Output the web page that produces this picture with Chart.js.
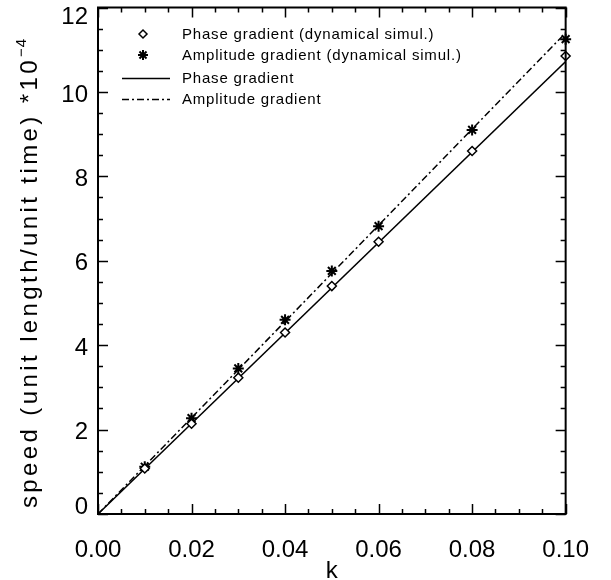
<!DOCTYPE html>
<html>
<head>
<meta charset="utf-8">
<script src="https://cdn.jsdelivr.net/npm/chart.js@4.4.0/dist/chart.umd.min.js"></script>
<style>
  html, body { margin: 0; padding: 0; background: #fff; }
</style>
</head>
<body>
<canvas id="speedChart" width="611" height="580"></canvas>
<script>
// simulated points (k, speed * 1e4)
const kSim = [0.01, 0.02, 0.03, 0.04, 0.05, 0.06, 0.08, 0.10];
const phaseSim = [1.08, 2.14, 3.23, 4.30, 5.40, 6.45, 8.60, 10.85];
const ampSim = [1.12, 2.27, 3.45, 4.60, 5.76, 6.82, 9.10, 11.25];

// analytic lines
const kLine = [0, 0.10];
const phaseLine = [0, 10.72];
const ampLine = [0, 11.40];

// axis ticks
const xTicks = [0, 0.02, 0.04, 0.06, 0.08, 0.10];
const yTicks = [0, 2, 4, 6, 8, 10, 12];

const labels = [
  "Phase gradient (dynamical simul.)",
  "Amplitude gradient (dynamical simul.)",
  "Phase gradient",
  "Amplitude gradient",
];

const toPoints = (xs, ys) => xs.map((x, i) => ({ x: x, y: ys[i] }));
const FONT = "'Liberation Sans', Arial, sans-serif";

// frame, inward ticks, y labels, titles and legend
const idlFrame = {
  id: "idlFrame",
  afterDraw(chart) {
    const ctx = chart.ctx;
    const a = chart.chartArea;
    const xs = chart.scales.x;
    const ys = chart.scales.y;

    ctx.save();
    ctx.strokeStyle = "#000";
    ctx.lineWidth = 2;
    ctx.strokeRect(a.left, a.top, a.right - a.left, a.bottom - a.top);

    ctx.lineWidth = 1.5;
    ctx.beginPath();
    for (let i = 0; i <= 20; i++) {
      const v = i * 0.005;
      const len = i % 4 === 0 ? 10 : 5;
      const px = Math.round(xs.getPixelForValue(v)) + 0.5;
      ctx.moveTo(px, a.bottom);
      ctx.lineTo(px, a.bottom - len);
      ctx.moveTo(px, a.top);
      ctx.lineTo(px, a.top + len);
    }
    for (let i = 0; i <= 24; i++) {
      const v = i * 0.5;
      const len = i % 4 === 0 ? 10 : 5;
      const py = Math.round(ys.getPixelForValue(v)) + 0.5;
      ctx.moveTo(a.left, py);
      ctx.lineTo(a.left + len, py);
      ctx.moveTo(a.right, py);
      ctx.lineTo(a.right - len, py);
    }
    ctx.stroke();

    // y tick labels
    ctx.fillStyle = "#000";
    ctx.font = "24px " + FONT;
    ctx.textAlign = "right";
    ctx.textBaseline = "middle";
    yTicks.forEach((v) => {
      let py = ys.getPixelForValue(v) + 3;
      py = Math.min(Math.max(py, a.top + 10), a.bottom - 7);
      ctx.fillText(String(v), a.left - 10, py);
    });

    // x title
    ctx.textAlign = "center";
    ctx.font = "24px " + FONT;
    ctx.fillText("k", (a.left + a.right) / 2, 571);

    // y title with superscript
    ctx.save();
    ctx.translate(37, 273);
    ctx.rotate(-Math.PI / 2);
    ctx.textBaseline = "alphabetic";
    ctx.font = "24px " + FONT;
    ctx.letterSpacing = "3.4px";
    const main = "speed (unit length/unit time) *10";
    const sup = "\u22124";
    const wMain = ctx.measureText(main).width;
    ctx.font = "15px " + FONT;
    ctx.letterSpacing = "1px";
    const wSup = ctx.measureText(sup).width;
    const x0 = -(wMain + wSup) / 2;
    ctx.textAlign = "left";
    ctx.fillText(sup, x0 + wMain, -11);
    ctx.font = "24px " + FONT;
    ctx.letterSpacing = "3.4px";
    ctx.fillText(main, x0, 0);
    ctx.restore();

    // legend
    const rows = [34, 55, 78, 99];
    ctx.font = "15px " + FONT;
    ctx.letterSpacing = "0.8px";
    ctx.textAlign = "left";
    ctx.textBaseline = "middle";
    chart.data.datasets.forEach((ds, i) => {
      const y = rows[i];
      if (ds.showLine) {
        ctx.save();
        ctx.lineWidth = 1.5;
        ctx.setLineDash(ds.borderDash || []);
        ctx.beginPath();
        ctx.moveTo(122, y + 0.5);
        ctx.lineTo(170, y + 0.5);
        ctx.stroke();
        ctx.restore();
      } else {
        ctx.save();
        ctx.fillStyle = ds.pointBackgroundColor;
        ctx.strokeStyle = "#000";
        ctx.lineWidth = ds.pointBorderWidth;
        Chart.helpers.drawPoint(ctx, {
          pointStyle: ds.pointStyle,
          radius: ds.pointRadius - 0.5,
          rotation: 0,
          borderWidth: ds.pointBorderWidth,
        }, 143, y);
        ctx.restore();
      }
      ctx.fillText(ds.label, 182, y + 1);
    });
    ctx.restore();
  },
};

new Chart(document.getElementById("speedChart"), {
  type: "scatter",
  data: {
    datasets: [
      {
        label: labels[0],
        data: toPoints(kSim, phaseSim),
        pointStyle: "rectRot",
        pointRadius: 4.5,
        pointBorderWidth: 1.5,
        pointBackgroundColor: "#fff",
        pointBorderColor: "#000",
        showLine: false,
        clip: false,
      },
      {
        label: labels[1],
        data: toPoints(kSim, ampSim),
        pointStyle: "star",
        pointRadius: 5.5,
        pointBorderWidth: 2,
        pointBackgroundColor: "#000",
        pointBorderColor: "#000",
        showLine: false,
        clip: false,
      },
      {
        label: labels[2],
        data: toPoints(kLine, phaseLine),
        showLine: true,
        borderColor: "#000",
        borderWidth: 1.5,
        pointRadius: 0,
      },
      {
        label: labels[3],
        data: toPoints(kLine, ampLine),
        showLine: true,
        borderColor: "#000",
        borderWidth: 1.5,
        borderDash: [7, 3, 2, 3],
        pointRadius: 0,
      },
    ],
  },
  options: {
    responsive: false,
    animation: false,
    layout: { padding: { top: 4, right: 41, left: 0, bottom: 0 } },
    plugins: {
      legend: { display: false },
      tooltip: { enabled: false },
    },
    scales: {
      x: {
        type: "linear",
        min: 0,
        max: 0.1,
        grid: { display: false, drawTicks: false },
        border: { display: false },
        afterBuildTicks: (scale) => {
          scale.ticks = xTicks.map((v) => ({ value: v }));
        },
        afterFit: (scale) => {
          scale.height = 66;
        },
        ticks: {
          color: "#000",
          padding: 22,
          maxRotation: 0,
          font: { size: 24, family: FONT },
          callback: (v) => Number(v).toFixed(2),
        },
      },
      y: {
        type: "linear",
        min: 0,
        max: 12,
        grid: { display: false, drawTicks: false },
        border: { display: false },
        afterFit: (scale) => {
          scale.width = 98;
        },
        ticks: { display: false },
      },
    },
  },
  plugins: [idlFrame],
});
</script>
</body>
</html>
